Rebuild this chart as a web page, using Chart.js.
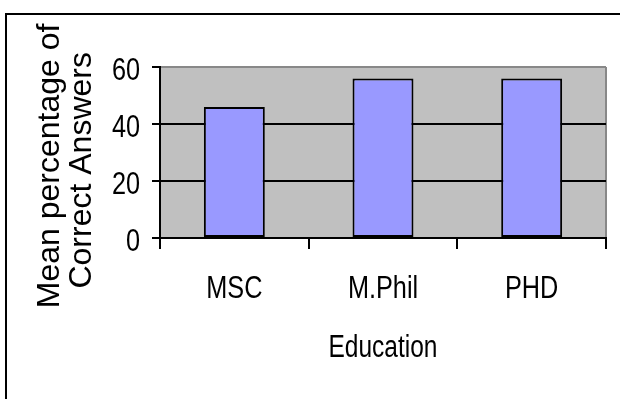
<!DOCTYPE html>
<html>
<head>
<meta charset="utf-8">
<script src="https://cdn.jsdelivr.net/npm/chart.js@4"></script>
<style>
  html, body { margin: 0; padding: 0; background: #ffffff; }
  canvas { display: block; }
</style>
</head>
<body>
<canvas id="chart" width="620" height="399"></canvas>
<script>
// Mean percentage of correct answers by education level
const categories = ['MSC', 'M.Phil', 'PHD'];
const meanPercent = [46, 56, 56];
const yTicks = [0, 20, 40, 60];
const xTitle = 'Education';
const yTitleLines = ['Mean percentage of   ', 'Correct Answers    '];

const sans = "'Liberation Sans', Arial, sans-serif";
// Horizontal labels are set in a narrow cut of the face
const TEXT_SQUEEZE = 0.79;

// Draws unrotated text horizontally condensed
const condensedText = {
  id: 'condensedText',
  beforeInit(chart) {
    const ctx = chart.ctx;
    const base = ctx.fillText.bind(ctx);
    ctx.fillText = function (text, x, y, maxWidth) {
      const m = ctx.getTransform();
      if (Math.abs(m.b) < 1e-6 && Math.abs(m.c) < 1e-6) {
        const w = ctx.measureText(text).width * TEXT_SQUEEZE;
        maxWidth = maxWidth === undefined ? w : Math.min(maxWidth, w);
      }
      if (maxWidth === undefined) base(text, x, y);
      else base(text, x, y, maxWidth);
    };
  }
};

// White page, outer frame and grey plot background
const backdrop = {
  id: 'backdrop',
  beforeDraw(chart) {
    const { ctx, chartArea: a } = chart;
    ctx.save();
    ctx.fillStyle = '#ffffff';
    ctx.fillRect(0, 0, chart.width, chart.height);
    ctx.strokeStyle = '#000000';
    ctx.lineWidth = 2;
    ctx.strokeRect(6, 14, chart.width + 40, chart.height + 40);
    ctx.fillStyle = '#c0c0c0';
    ctx.fillRect(a.left, a.top, a.right - a.left, a.bottom - a.top);
    ctx.restore();
  }
};

new Chart(document.getElementById('chart'), {
  type: 'bar',
  data: {
    labels: categories,
    datasets: [{
      data: meanPercent,
      backgroundColor: '#9999ff',
      borderColor: '#000000',
      borderWidth: 2,
      borderSkipped: false,
      categoryPercentage: 1,
      barPercentage: 0.41
    }]
  },
  options: {
    responsive: false,
    animation: false,
    layout: { padding: { top: 67, right: 14, bottom: 0, left: 0 } },
    plugins: { legend: { display: false }, tooltip: { enabled: false } },
    scales: {
      x: {
        afterFit(scale) { scale.height = 161; },
        border: { display: true, color: '#000000', width: 2 },
        grid: {
          offset: true,
          drawOnChartArea: true,
          color: (c) => (c.type === 'tick' ? 'rgba(0,0,0,0)' : '#888888'),
          lineWidth: 2,
          tickColor: '#000000',
          tickLength: 11
        },
        ticks: {
          color: '#000000',
          padding: 21,
          font: { family: sans, size: 32 }
        },
        title: {
          display: true,
          text: xTitle,
          color: '#000000',
          padding: { top: 0, bottom: 32 },
          font: { family: sans, size: 31 }
        }
      },
      y: {
        min: 0,
        max: 60,
        afterFit(scale) { scale.width = 160; },
        afterBuildTicks(scale) { scale.ticks = yTicks.map((v) => ({ value: v })); },
        border: { display: true, color: '#000000', width: 2 },
        grid: {
          color: (c) => (c.tick && c.tick.value === 60 ? '#888888' : '#000000'),
          lineWidth: 2,
          tickColor: '#000000',
          tickLength: 8
        },
        ticks: {
          color: '#000000',
          padding: 12,
          labelOffset: 4,
          font: { family: sans, size: 32 }
        },
        title: {
          display: true,
          text: yTitleLines,
          color: '#000000',
          padding: { top: 34, bottom: 0 },
          font: { family: sans, size: 32, lineHeight: 1.0 }
        }
      }
    }
  },
  plugins: [condensedText, backdrop]
});
</script>
</body>
</html>
